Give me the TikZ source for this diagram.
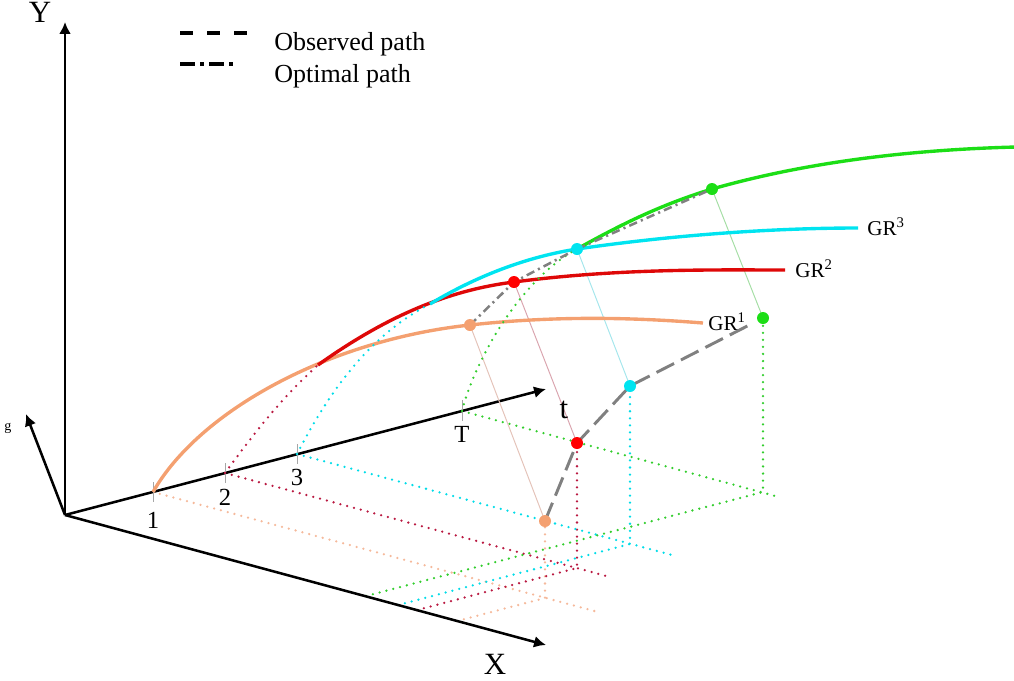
\documentclass[tikz,border=0pt]{standalone}
\usepackage{fontspec}
\setmainfont{Liberation Serif}
\usetikzlibrary{arrows.meta}

\definecolor{grorange}{RGB}{244,160,112}
\definecolor{grred}{RGB}{222,8,8}
\definecolor{grcyan}{RGB}{0,228,240}
\definecolor{grgreen}{RGB}{28,222,22}
\definecolor{florange}{RGB}{245,185,155}
\definecolor{flred}{RGB}{185,25,65}
\definecolor{flcyan}{RGB}{0,220,232}
\definecolor{flgreen}{RGB}{50,205,45}
\definecolor{lkorange}{RGB}{228,195,185}
\definecolor{lkred}{RGB}{218,165,175}
\definecolor{lkcyan}{RGB}{165,230,236}
\definecolor{lkgreen}{RGB}{165,222,165}
\definecolor{pathgray}{RGB}{128,128,128}

\begin{document}
\begin{tikzpicture}[x=0.025cm, y=-0.025cm,
  axis/.style={line width=1.8pt, -{Latex[length=8.5pt, width=8.5pt]}},
  curve/.style={line width=2.4pt},
  floorline/.style={line width=1.8pt, line cap=round, dash pattern=on 0pt off 5pt},
  link/.style={line width=0.7pt},
  tickmark/.style={line width=0.7pt, black!35},
  obspath/.style={line width=2.1pt, pathgray, dash pattern=on 14pt off 5.5pt},
  optpath/.style={line width=1.8pt, pathgray, dash pattern=on 6pt off 3pt on 1.5pt off 3pt},
  legobs/.style={line width=2.4pt, dash pattern=on 9.3pt off 10pt},
  legopt/.style={line width=2.4pt, dash pattern=on 10.7pt off 3.6pt on 2.8pt off 3.6pt},
  dot/.style={circle, inner sep=0pt, minimum size=0.3cm},
  axislabel/.style={inner sep=0pt, font=\fontsize{22}{24}\selectfont},
  ticklabel/.style={font=\fontsize{17.5}{19}\selectfont},
  grlabel/.style={anchor=base west, inner sep=0pt, font=\fontsize{15}{18}\selectfont},
  leglabel/.style={anchor=base west, inner sep=0pt, font=\fontsize{18.5}{22}\selectfont}]

\useasboundingbox (0,0) rectangle (1014,680);

\coordinate (O) at (65,515);
\coordinate (Ytip) at (65,22);
\coordinate (Ttip) at (546,389);
\coordinate (Xtip) at (546,645);
\coordinate (gtip) at (26,414);

\coordinate (k1) at (153,492);
\coordinate (k2) at (225,473);
\coordinate (k3) at (297,454);
\coordinate (kT) at (462,411);

\coordinate (f1) at (545,598);
\coordinate (f2) at (577,568);
\coordinate (f3) at (630,544);
\coordinate (f4) at (763,492);
\coordinate (a1) at (598,612);
\coordinate (a2) at (610,577);
\coordinate (a3) at (672,555);
\coordinate (a4) at (779,497);
\coordinate (b1) at (457,621);
\coordinate (b2) at (417,610);
\coordinate (b3) at (398,605);
\coordinate (b4) at (366,596);

\coordinate (c1) at (470,325);
\coordinate (c2) at (514,282);
\coordinate (c3) at (577,249);
\coordinate (c4) at (712,189);
\coordinate (o1) at (545,521);
\coordinate (o2) at (577,443);
\coordinate (o3) at (630,386);
\coordinate (o4) at (763,318);

\coordinate (m2) at (318,365);
\coordinate (m3) at (430,304);

\draw[floorline, florange] (k1) -- (a1);
\draw[floorline, florange] (b1) -- (f1) -- (o1);
\draw[floorline, flred] (k2) -- (a2);
\draw[floorline, flred] (b2) -- (f2) -- (o2);
\draw[floorline, flcyan] (k3) -- (a3);
\draw[floorline, flcyan] (b3) -- (f3) -- (o3);
\draw[floorline, flgreen] (kT) -- (a4);
\draw[floorline, flgreen] (b4) -- (f4) -- (o4);

\draw[axis] (O) -- (Ytip);
\draw[axis] (O) -- (Ttip);
\draw[axis] (O) -- (Xtip);
\draw[axis] (O) -- (gtip);

\draw[tickmark] ([yshift=7pt]k1) -- ([yshift=-7pt]k1);
\draw[tickmark] ([yshift=7pt]k2) -- ([yshift=-7pt]k2);
\draw[tickmark] ([yshift=7pt]k3) -- ([yshift=-7pt]k3);
\draw[tickmark] ([yshift=8pt]kT) -- ([yshift=-7pt]kT);

\draw[link, lkorange] (c1) -- (o1);
\draw[link, lkred] (c2) -- (o2);
\draw[link, lkcyan] (c3) -- (o3);
\draw[link, lkgreen] (c4) -- (o4);

\draw[curve, grorange] (k1) .. controls (200,410) and (330,340) .. (c1)
  .. controls (560,315) and (640,318) .. (703,323);
\draw[floorline, flred] (k2) .. controls (260,425) and (285,395) .. (m2);
\draw[curve, grred] (m2) .. controls (388,315) and (450,290) .. (c2)
  .. controls (620,268) and (720,270) .. (785,270);
\draw[floorline, flcyan] (k3) .. controls (330,390) and (370,335) .. (m3);
\draw[curve, grcyan] (m3) .. controls (470,280) and (520,258) .. (c3)
  .. controls (680,234) and (780,228) .. (858,228);
\draw[floorline, flgreen] (kT) .. controls (475,360) and (520,280) .. (c3);
\draw[curve, grgreen] (c3) .. controls (620,225) and (660,205) .. (c4)
  .. controls (800,164) and (900,150) .. (1016,147);

\draw[optpath] (c1) -- (c2) -- (c3) -- (c4);
\draw[obspath, shorten >=8pt] (o1) -- (o2) -- (o3) -- (o4);

\node[dot, fill=grorange] (d1) at (c1) {};
\node[dot, fill=red] (d2) at (c2) {};
\node[dot, fill=grcyan] (d3) at (c3) {};
\node[dot, fill=grgreen] (d4) at (c4) {};
\node[dot, fill=grorange] (e1) at (o1) {};
\node[dot, fill=red] (e2) at (o2) {};
\node[dot, fill=grcyan] (e3) at (o3) {};
\node[dot, fill=grgreen] (e4) at (o4) {};

\node[axislabel] (ylab) at (40,12) {Y};
\node[axislabel] (xlab) at (495,664) {X};
\node[axislabel] (tlab) at (564,410) {t};
\node[font=\fontsize{10}{12}\selectfont] (glab) at (8,428) {g};

\node[ticklabel] (lab1) at (153,520) {1};
\node[ticklabel] (lab2) at (225,497) {2};
\node[ticklabel] (lab3) at (297,477) {3};
\node[ticklabel] (labT) at (462,434) {T};

\node[grlabel] (gr1) at (708,330) {GR\textsuperscript{1}};
\node[grlabel] (gr2) at (795,277) {GR\textsuperscript{2}};
\node[grlabel] (gr3) at (867,235) {GR\textsuperscript{3}};

\coordinate (s1a) at (180,33);
\coordinate (s1b) at (247,33);
\coordinate (s2a) at (180,64);
\coordinate (s2b) at (236,64);
\draw[legobs] (s1a) -- (s1b);
\draw[legopt] (s2a) -- (s2b);
\node[leglabel] (obs) at (274,50) {Observed path};
\node[leglabel] (opt) at (274,82) {Optimal path};

\end{tikzpicture}
\end{document}
